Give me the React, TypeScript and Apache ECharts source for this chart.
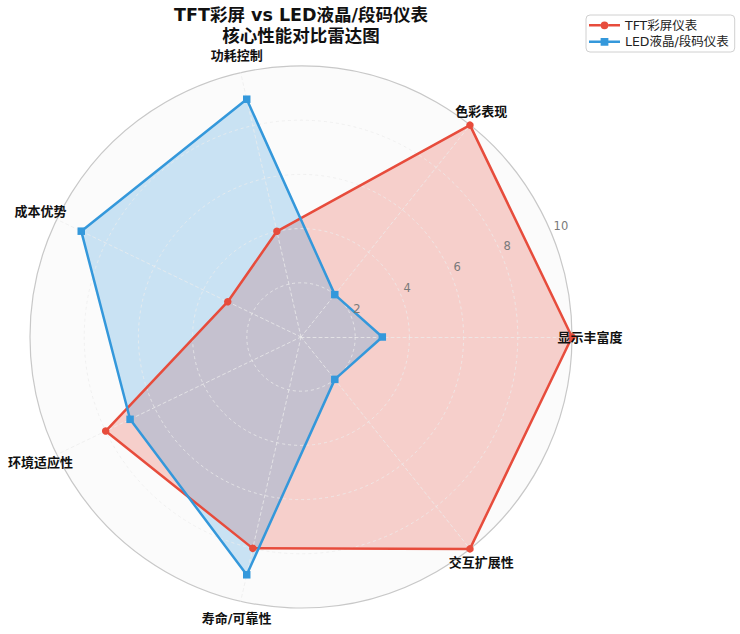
import React, { useEffect, useRef } from "react";
import * as echarts from "echarts";

const categories = ["显示丰富度", "色彩表现", "功耗控制", "成本优势", "环境适应性", "寿命/可靠性", "交互扩展性"];
const tftValues = [10, 10, 4, 3, 8, 8, 10];
const ledValues = [3, 2, 9, 9, 7, 9, 2];
const radialTicks = [2, 4, 6, 8, 10];
const seriesNames = ["TFT彩屏仪表", "LED液晶/段码仪表"];
const titleText = "TFT彩屏 vs LED液晶/段码仪表\n核心性能对比雷达图";

const CX = 301;
const CY = 337;
const R = 271;
const LABEL_R = 289;
const RED = "#e74c3c";
const BLUE = "#3498db";
const FONT = '"DejaVu Sans", "Noto Sans CJK SC", sans-serif';
const GRID = "rgba(236,236,236,0.75)";

const ICON_CIRCLE =
  "path://M0,2.8h10.5v2.4h-10.5z M17.5,2.8h10.5v2.4h-10.5z M10.5,4a3.5,3.5 0 1,0 7,0a3.5,3.5 0 1,0 -7,0z";
const ICON_SQUARE =
  "path://M0,2.8h10.5v2.4h-10.5z M17.5,2.8h10.5v2.4h-10.5z M10.5,0.5h7v7h-7z";

export default function App() {
  const ref = useRef<HTMLDivElement>(null);

  useEffect(() => {
    if (!ref.current) return;
    const chart = echarts.init(ref.current, null, { renderer: "svg" });
    const maxV = radialTicks[radialTicks.length - 1];

    const nameLabels = categories.map((c, i) => {
      const a = (i * 2 * Math.PI) / categories.length;
      return {
        type: "text",
        x: CX + LABEL_R * Math.cos(a),
        y: CY - LABEL_R * Math.sin(a),
        z: 100,
        style: {
          text: c,
          align: "center",
          verticalAlign: "middle",
          textAlign: "center",
          textVerticalAlign: "middle",
          fontSize: 13,
          fontWeight: "bold",
          fontFamily: FONT,
          fill: "#111",
        },
      };
    });

    const hiddenAngle = (idx: number, showLine: boolean) => ({
      type: "value",
      polarIndex: idx,
      min: 0,
      max: 360,
      startAngle: 22.5,
      z: 0,
      axisLine: { show: showLine, lineStyle: { color: "#c8c8c8", width: 1.2 } },
      axisTick: { show: false },
      axisLabel: { show: false },
      splitLine: { show: false },
    });

    const fillSeries = (name: string, color: string, values: number[]) => ({
      type: "radar",
      name,
      z: 1,
      symbol: "none",
      silent: true,
      itemStyle: { color },
      lineStyle: { width: 0, opacity: 0 },
      areaStyle: { color, opacity: 0.25 },
      data: [{ name, value: values }],
    });

    const lineSeries = (name: string, color: string, values: number[], symbol: string) => ({
      type: "radar",
      name,
      z: 4,
      symbol,
      symbolSize: 7.5,
      itemStyle: { color },
      lineStyle: { color, width: 2.5 },
      data: [{ name, value: values }],
    });

    const option: any = {
      animation: false,
      backgroundColor: "#ffffff",
      title: {
        text: titleText,
        left: CX,
        top: 5,
        textAlign: "center",
        padding: 0,
        textStyle: {
          fontSize: 17.5,
          fontWeight: "bold",
          lineHeight: 20.5,
          color: "#111",
          fontFamily: FONT,
        },
      },
      legend: {
        orient: "vertical",
        left: 586,
        top: 15,
        itemWidth: 31,
        itemHeight: 8,
        itemGap: 4,
        padding: [4, 6, 4, 3],
        backgroundColor: "#ffffff",
        borderColor: "#d0d0d0",
        borderWidth: 1,
        borderRadius: 4,
        itemStyle: { borderWidth: 0 },
        textStyle: { fontSize: 12.5, color: "#222", fontFamily: FONT },
        data: [
          { name: seriesNames[0], icon: ICON_CIRCLE },
          { name: seriesNames[1], icon: ICON_SQUARE },
        ],
      },
      polar: [
        { center: [CX, CY], radius: R },
        { center: [CX, CY], radius: R },
      ],
      angleAxis: [hiddenAngle(0, true), hiddenAngle(1, false)],
      radiusAxis: [
        {
          type: "value",
          polarIndex: 0,
          min: 0,
          max: maxV,
          interval: 2,
          z: 0,
          axisLine: { show: false },
          axisTick: { show: false },
          splitLine: { show: false },
          splitArea: { show: true, areaStyle: { color: ["#fbfbfb"] } },
          axisLabel: { show: false },
        },
        {
          type: "value",
          polarIndex: 1,
          min: 0,
          max: maxV,
          interval: 2,
          z: 10,
          axisLine: { show: false },
          axisTick: { show: false },
          splitLine: { show: false },
          splitArea: { show: false },
          axisLabel: {
            show: true,
            margin: 2,
            align: "left",
            verticalAlign: "bottom",
            padding: [0, 0, 0, 3],
            color: "#7a7a7a",
            fontSize: 11.5,
            fontFamily: FONT,
            formatter: (v: number) => (radialTicks.indexOf(v) >= 0 ? String(v) : ""),
          },
        },
      ],
      radar: {
        center: [CX, CY],
        radius: R,
        startAngle: 0,
        shape: "circle",
        splitNumber: radialTicks.length,
        z: 3,
        indicator: categories.map((c) => ({ name: c, min: 0, max: maxV })),
        axisName: { show: false },
        axisLine: { lineStyle: { color: GRID, type: [3, 3], width: 1 } },
        splitLine: {
          lineStyle: {
            color: [GRID, GRID, GRID, GRID, GRID, "rgba(0,0,0,0)"],
            type: [3, 3],
            width: 1,
          },
        },
        splitArea: { show: false },
      },
      graphic: nameLabels,
      series: [
        fillSeries(seriesNames[0], RED, tftValues),
        fillSeries(seriesNames[1], BLUE, ledValues),
        lineSeries(seriesNames[0], RED, tftValues, "circle"),
        lineSeries(seriesNames[1], BLUE, ledValues, "rect"),
      ],
    };

    chart.setOption(option);
    return () => chart.dispose();
  }, []);

  return (
    <div
      ref={ref}
      style={{ position: "absolute", left: 0, top: 0, width: 740, height: 634 }}
    />
  );
}
